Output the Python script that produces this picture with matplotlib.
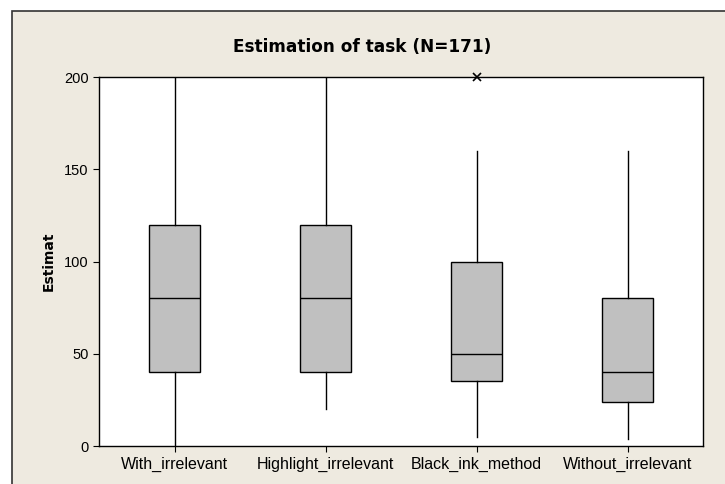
import matplotlib.pyplot as plt
from matplotlib.patches import Rectangle

# values
methods = ['With_irrelevant', 'Highlight_irrelevant', 'Black_ink_method', 'Without_irrelevant']
whis_lo = [0, 20, 5, 4]
q1 = [40, 40, 35, 24]
median = [80, 80, 50, 40]
q3 = [120, 120, 100, 80]
whis_hi = [200, 200, 160, 160]
outliers = [[], [], [200], []]

plt.rcParams['font.family'] = ['Liberation Sans', 'DejaVu Sans']

fig = plt.figure(figsize=(7.25, 4.84), dpi=100)
fig.patch.set_facecolor('white')

# beige graph region with frame (Minitab style)
bg = Rectangle((12 / 725, -0.01), 1.0, (484 - 11) / 484 + 0.01, transform=fig.transFigure,
               facecolor='#eeeae0', edgecolor='#333333', linewidth=1.2, zorder=-10)
fig.patches.append(bg)

ax = fig.add_axes([99 / 725, 38 / 484, 604 / 725, 369 / 484])
ax.set_facecolor('white')

stats = []
for i in range(len(methods)):
    stats.append({'whislo': whis_lo[i], 'q1': q1[i], 'med': median[i], 'q3': q3[i],
                  'whishi': whis_hi[i], 'fliers': outliers[i], 'label': methods[i]})

bp = ax.bxp(stats, positions=[1, 2, 3, 4], widths=0.34, patch_artist=True, showcaps=False,
            boxprops=dict(facecolor='#c0c0c0', edgecolor='black', linewidth=1.0),
            medianprops=dict(color='black', linewidth=1.0),
            whiskerprops=dict(color='black', linewidth=1.0),
            flierprops=dict(marker='x', markeredgecolor='black', markersize=6, markeredgewidth=1.2),
            zorder=3)
for f in bp['fliers']:
    f.set_clip_on(False)

ax.set_xlim(0.5, 4.5)
ax.set_ylim(0, 200)
ax.set_yticks([0, 50, 100, 150, 200])
ax.tick_params(axis='both', direction='out', length=4, width=0.8, colors='black')
ax.tick_params(axis='y', labelsize=10.5)
ax.tick_params(axis='x', labelsize=11.5)
for s in ax.spines.values():
    s.set_color('black')
    s.set_linewidth(1.0)

ax.set_ylabel('Estimat', fontsize=10, fontweight='bold', family='DejaVu Sans', labelpad=6)
fig.text(0.5, (484 - 47) / 484, 'Estimation of task (N=171)', ha='center', va='center',
         fontsize=12.2, fontweight='bold', family='DejaVu Sans')

plt.savefig('out.png', dpi=100)
